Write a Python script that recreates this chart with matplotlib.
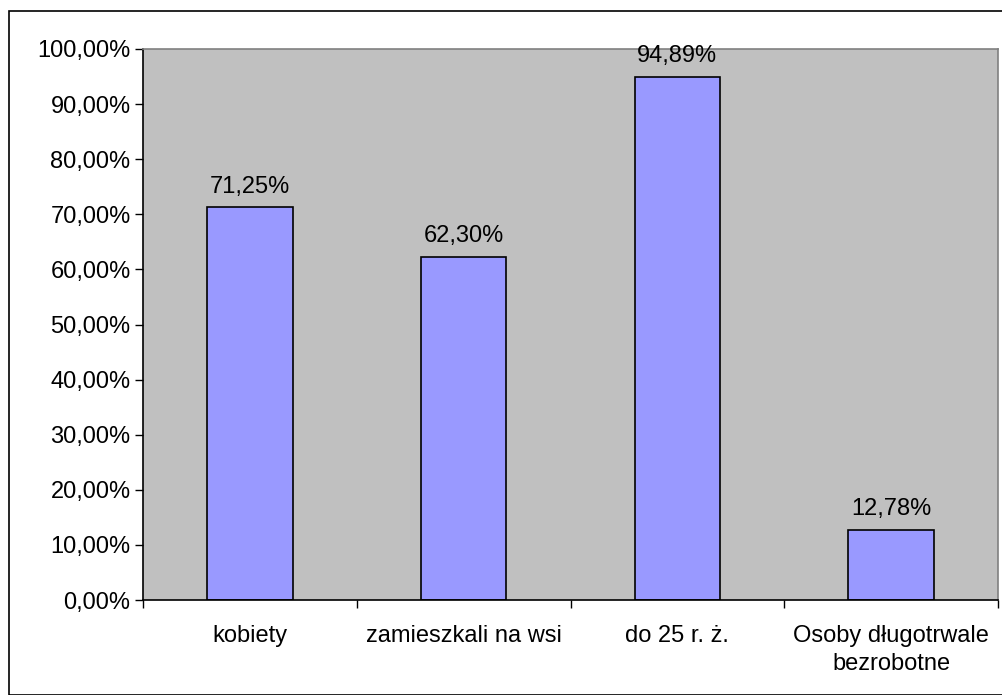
import matplotlib
matplotlib.use('Agg')
import matplotlib.pyplot as plt
from matplotlib.patches import Rectangle

categories = ['kobiety', 'zamieszkali na wsi', 'do 25 r. ż.', 'Osoby długotrwale\nbezrobotne']
values = [71.25, 62.30, 94.89, 12.78]
yticks = [0, 10, 20, 30, 40, 50, 60, 70, 80, 90, 100]

plt.rcParams['font.family'] = ['Liberation Sans', 'DejaVu Sans']
FS = 17

fig = plt.figure(figsize=(10.02, 6.95), dpi=100)
fig.patch.set_facecolor('white')

# outer chart frame
fig.add_artist(Rectangle((9 / 1002, 0), 1.0, 1 - 11 / 695, transform=fig.transFigure,
                         fill=False, edgecolor='black', linewidth=1.2))

ax = fig.add_axes([143 / 1002, 1 - 600 / 695, 855 / 1002, 551 / 695])
ax.set_facecolor('#C0C0C0')

x = list(range(len(categories)))
bars = ax.bar(x, values, width=0.4, color='#9999FF', edgecolor='black', linewidth=1.2)

for xi, v in zip(x, values):
    ax.annotate(f'{v:.2f}%'.replace('.', ','), (xi, v), xytext=(0, 7),
                textcoords='offset points', ha='center', va='bottom', fontsize=FS)

ax.set_xlim(-0.5, len(categories) - 0.5)
ax.set_ylim(0, 100)
ax.set_yticks(yticks)
ax.set_yticklabels([f'{t:.2f}%'.replace('.', ',') for t in yticks], fontsize=FS)
ax.tick_params(axis='y', direction='out', length=6, width=1, pad=3)

# category ticks sit between the groups
ax.set_xticks([i - 0.5 for i in range(len(categories) + 1)])
ax.set_xticklabels([])
ax.set_xticks(x, minor=True)
ax.set_xticklabels(categories, minor=True, fontsize=FS, linespacing=1.35)
ax.tick_params(axis='x', which='major', direction='out', length=6, width=1)
ax.tick_params(axis='x', which='minor', length=0, pad=18)

ax.spines['left'].set_color('black')
ax.spines['bottom'].set_color('black')
ax.spines['top'].set_color('#808080')
ax.spines['right'].set_color('#808080')
for s in ax.spines.values():
    s.set_linewidth(1.2)

plt.savefig('out.png', dpi=100)
plt.close()
